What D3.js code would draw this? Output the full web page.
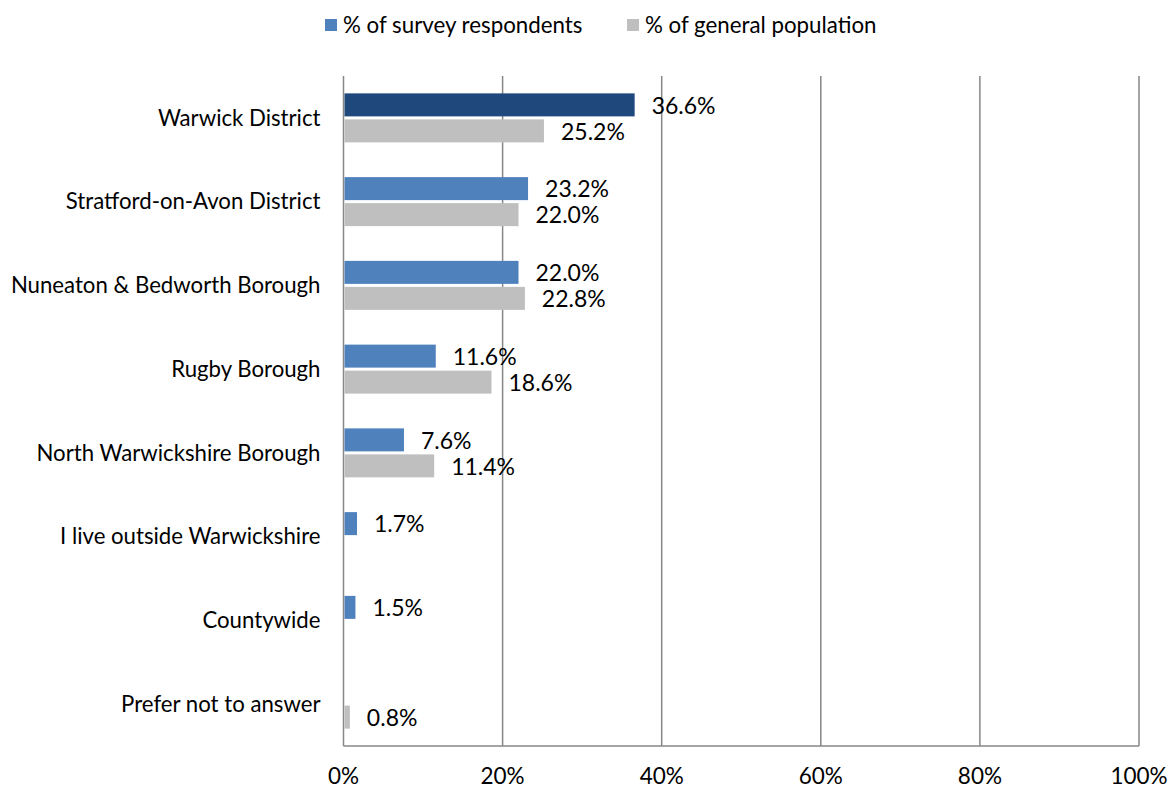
<!DOCTYPE html>
<html>
<head>
<meta charset="utf-8">
<script src="https://cdn.jsdelivr.net/npm/d3@7"></script>
<style>
  html, body { margin: 0; padding: 0; background: #fff; }
  svg { display: block; }
  text { font-family: Lato, "Open Sans", sans-serif; fill: #000; }
</style>
</head>
<body>
<svg id="chart" width="1173" height="791"></svg>
<script>
// Area of residence: survey respondents vs general population (%)
const categories = [
  "Warwick District",
  "Stratford-on-Avon District",
  "Nuneaton & Bedworth Borough",
  "Rugby Borough",
  "North Warwickshire Borough",
  "I live outside Warwickshire",
  "Countywide",
  "Prefer not to answer"
];
const respondents = [36.6, 23.2, 22.0, 11.6, 7.6, 1.7, 1.5, null];
const population  = [25.2, 22.0, 22.8, 18.6, 11.4, null, null, 0.8];
const seriesNames = ["% of survey respondents", "% of general population"];
const xTicks = [0, 20, 40, 60, 80, 100];
const highlighted = "Warwick District";

const colors = { respondents: "#4F81BD", highlight: "#1F497D", population: "#BFBFBF", grid: "#878787" };

const svg = d3.select("#chart");
const margin = { top: 76, right: 34, bottom: 45, left: 343.5 };
const W = 1173, H = 791;
const innerW = W - margin.left - margin.right;
const innerH = H - margin.top - margin.bottom;

const x = d3.scaleLinear().domain([0, 100]).range([0, innerW]);
const y = d3.scaleBand().domain(categories).range([0, innerH]).paddingInner(0).paddingOuter(0);
const barH = 23, barGap = 3;

const g = svg.append("g").attr("transform", `translate(${margin.left},${margin.top})`);

// vertical gridlines
g.append("g").selectAll("line").data(xTicks).join("line")
  .attr("x1", d => x(d)).attr("x2", d => x(d))
  .attr("y1", 0).attr("y2", innerH)
  .attr("stroke", colors.grid).attr("stroke-width", 1.5);

// bottom axis line
g.append("line").attr("x1", 0).attr("x2", innerW).attr("y1", innerH).attr("y2", innerH)
  .attr("stroke", colors.grid).attr("stroke-width", 1.5);

// x tick labels
g.append("g").selectAll("text").data(xTicks).join("text")
  .attr("x", d => x(d)).attr("y", innerH + 32)
  .attr("text-anchor", "middle").attr("dominant-baseline", "middle")
  .style("font-size", "22.5px")
  .text(d => d + "%");

// category labels
g.append("g").selectAll("text").data(categories).join("text")
  .attr("x", -23).attr("y", d => y(d) + y.bandwidth() / 2 + 2)
  .attr("text-anchor", "end").attr("dominant-baseline", "middle")
  .style("font-size", "22.2px")
  .text(d => d);

const rows = categories.map((c, i) => ({ c, r: respondents[i], p: population[i] }));
const mid = c => y(c) + y.bandwidth() / 2;

const bars = [];
rows.forEach(d => {
  if (d.r != null) bars.push({ c: d.c, v: d.r, y0: mid(d.c) - barGap / 2 - barH,
    fill: d.c === highlighted ? colors.highlight : colors.respondents });
  if (d.p != null) bars.push({ c: d.c, v: d.p, y0: mid(d.c) + barGap / 2, fill: colors.population });
});

g.append("g").selectAll("rect").data(bars).join("rect")
  .attr("x", x(0) + 1).attr("y", d => d.y0)
  .attr("width", d => x(d.v) - x(0) - 1).attr("height", barH)
  .attr("fill", d => d.fill);

g.append("g").selectAll("text").data(bars).join("text")
  .attr("x", d => x(d.v) + 17).attr("y", d => d.y0 + barH / 2 + 3)
  .attr("dominant-baseline", "middle")
  .style("font-size", "23px")
  .text(d => d.v.toFixed(1) + "%");

// legend
const legend = svg.append("g").attr("transform", "translate(0,25)");
const legendItems = [
  { name: seriesNames[0], color: colors.respondents, x: 325 },
  { name: seriesNames[1], color: colors.population, x: 627 }
];
const li = legend.selectAll("g").data(legendItems).join("g")
  .attr("transform", d => `translate(${d.x},0)`);
li.append("rect").attr("x", 0).attr("y", -6).attr("width", 12).attr("height", 12).attr("fill", d => d.color);
li.append("text").attr("x", 18).attr("y", 2).attr("dominant-baseline", "middle")
  .style("font-size", "22.3px").text(d => d.name);
</script>
</body>
</html>
